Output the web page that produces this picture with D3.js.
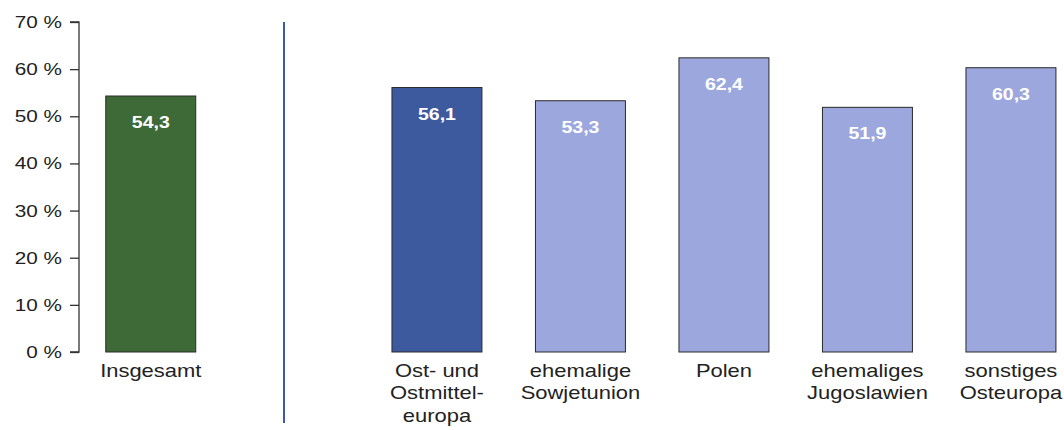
<!DOCTYPE html>
<html>
<head>
<meta charset="utf-8">
<script src="https://cdn.jsdelivr.net/npm/d3@7"></script>
<style>
  body { margin: 0; background: #fff; }
  svg { display: block; }
</style>
</head>
<body>
<div class="chart"></div>
<script>
// data
const totalCategory = ['Insgesamt']
const totalValues = [54.3]
const regionCategories = [
  ['Ost- und', 'Ostmittel-', 'europa'],
  ['ehemalige', 'Sowjetunion'],
  ['Polen'],
  ['ehemaliges', 'Jugoslawien'],
  ['sonstiges', 'Osteuropa']
]
const regionValues = [56.1, 53.3, 62.4, 51.9, 60.3]
const yTicks = [0, 10, 20, 30, 40, 50, 60, 70]

const GREEN = '#3d6a36'
const DARK_BLUE = '#3e5a9f'
const LIGHT_BLUE = '#9ca7dd'
const DIVIDER = '#3d5aa6'
const TEXT = '#222'
// the original type looks stretched sideways
const STRETCH = 1.22

const width = 1064
const height = 430
const axisX = 79
const y0 = 352
const y70 = 22

const svg = d3.select('.chart').append('svg')
  .attr('width', width)
  .attr('height', height)
  .attr('font-family', 'Arial, "Liberation Sans", sans-serif')

const y = d3.scaleLinear()
  .domain([0, 70])
  .range([y0, y70])

const step = 143.5
const xLeft = d3.scaleBand()
  .domain(totalCategory)
  .range([axisX, axisX + step])
  .paddingInner(0.373)
  .paddingOuter(0.1865)
const regionKeys = regionCategories.map(d => d.join(' '))
const xRight = d3.scaleBand()
  .domain(regionKeys)
  .range([365.2, 365.2 + step * 5])
  .paddingInner(0.373)
  .paddingOuter(0.1865)

// y axis
const yAxis = svg.append('g')
  .attr('transform', `translate(${axisX},0)`)
  .call(d3.axisLeft(y).tickValues(yTicks).tickSize(9).tickPadding(8).tickFormat(d => `${d} %`))
yAxis.select('.domain').attr('stroke', '#333').attr('stroke-width', 1.3)
  .attr('d', `M-9,${y70}H0V${y0}H-9`)
yAxis.selectAll('.tick line').attr('stroke', '#333').attr('stroke-width', 1.3)
yAxis.selectAll('.tick text')
  .attr('font-size', 17)
  .attr('fill', TEXT)
  .attr('font-family', 'Arial, "Liberation Sans", sans-serif')
  .attr('x', -17 / STRETCH)
  .attr('transform', `scale(${STRETCH},1)`)

// divider
svg.append('line')
  .attr('x1', 284).attr('x2', 284)
  .attr('y1', y70).attr('y2', 423)
  .attr('stroke', DIVIDER)
  .attr('stroke-width', 2)

const addBars = (scale, keys, values, colorFn) => {
  const g = svg.append('g')
  g.selectAll('rect')
    .data(values)
    .join('rect')
    .attr('x', (d, i) => scale(keys[i]))
    .attr('y', d => y(d))
    .attr('width', scale.bandwidth())
    .attr('height', d => y(0) - y(d))
    .attr('fill', (d, i) => colorFn(i))
    .attr('stroke', '#2a2a2a')
    .attr('stroke-width', 1)
  g.selectAll('text.val')
    .data(values)
    .join('text')
    .attr('class', 'val')
    .attr('transform', (d, i) => `translate(${scale(keys[i]) + scale.bandwidth() / 2},${y(d) + 32}) scale(${STRETCH},1)`)
    .attr('text-anchor', 'middle')
    .attr('font-size', 16)
    .attr('font-weight', 'bold')
    .attr('fill', '#fff')
    .text(d => String(d).replace('.', ','))
}

addBars(xLeft, totalCategory, totalValues, () => GREEN)
addBars(xRight, regionKeys, regionValues, i => i === 0 ? DARK_BLUE : LIGHT_BLUE)

const addLabels = (scale, keys, lines) => {
  keys.forEach((k, i) => {
    const t = svg.append('text')
      .attr('transform', `translate(${scale(k) + scale.bandwidth() / 2},377) scale(${STRETCH},1)`)
      .attr('text-anchor', 'middle')
      .attr('font-size', 18)
      .attr('fill', TEXT)
    lines[i].forEach((line, j) => {
      t.append('tspan')
        .attr('x', 0)
        .attr('dy', j === 0 ? 0 : 22.5)
        .text(line)
    })
  })
}

addLabels(xLeft, totalCategory, [['Insgesamt']])
addLabels(xRight, regionKeys, regionCategories)
</script>
</body>
</html>
